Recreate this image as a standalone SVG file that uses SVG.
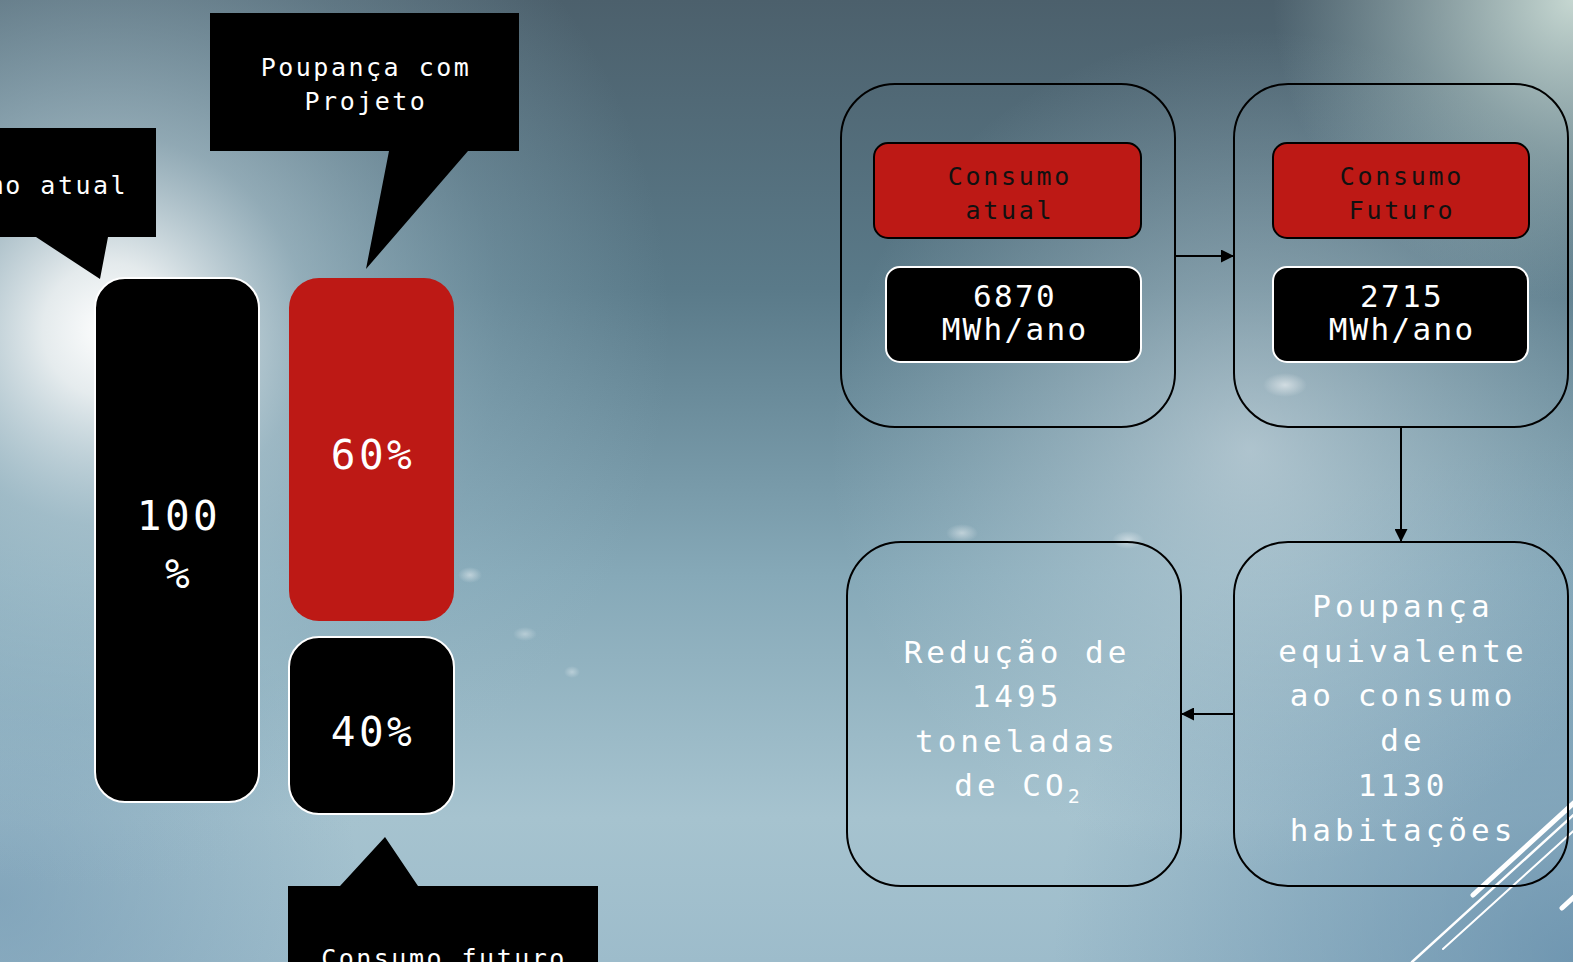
<svg xmlns="http://www.w3.org/2000/svg" width="1573" height="962" viewBox="0 0 1573 962">
<defs>
<linearGradient id="bgv" x1="0" y1="0" x2="0" y2="1">
<stop offset="0" stop-color="#4c606c"/>
<stop offset="0.3" stop-color="#5a7a89"/>
<stop offset="0.6" stop-color="#86a9b8"/>
<stop offset="0.85" stop-color="#a6c3cf"/>
<stop offset="1" stop-color="#9dbccb"/>
</linearGradient>
<radialGradient id="glowL" cx="110" cy="330" r="560" gradientUnits="userSpaceOnUse">
<stop offset="0" stop-color="#ffffff" stop-opacity="1"/>
<stop offset="0.12" stop-color="#f0f4f5" stop-opacity="0.92"/>
<stop offset="0.35" stop-color="#b9d0da" stop-opacity="0.6"/>
<stop offset="0.7" stop-color="#9bbccb" stop-opacity="0.25"/>
<stop offset="1" stop-color="#9bbccb" stop-opacity="0"/>
</radialGradient>
<radialGradient id="glowTR" cx="1573" cy="0" r="300" gradientUnits="userSpaceOnUse">
<stop offset="0" stop-color="#d3e4dc" stop-opacity="0.9"/>
<stop offset="1" stop-color="#b5cfcf" stop-opacity="0"/>
</radialGradient>
<radialGradient id="glowC" cx="1250" cy="450" r="420" gradientUnits="userSpaceOnUse">
<stop offset="0" stop-color="#dfeaf0" stop-opacity="0.55"/>
<stop offset="1" stop-color="#c0d6e0" stop-opacity="0"/>
</radialGradient>
<radialGradient id="darkBR" cx="1573" cy="962" r="520" gradientUnits="userSpaceOnUse">
<stop offset="0" stop-color="#5d87a6" stop-opacity="0.7"/>
<stop offset="1" stop-color="#5d87a6" stop-opacity="0"/>
</radialGradient>
<radialGradient id="darkBL" cx="0" cy="900" r="360" gradientUnits="userSpaceOnUse">
<stop offset="0" stop-color="#6f95b0" stop-opacity="0.6"/>
<stop offset="1" stop-color="#6f95b0" stop-opacity="0"/>
</radialGradient>
<radialGradient id="spot">
<stop offset="0" stop-color="#ffffff" stop-opacity="0.9"/>
<stop offset="1" stop-color="#ffffff" stop-opacity="0"/>
</radialGradient>
<marker id="ah" viewBox="0 0 13 13" refX="12" refY="6.5" markerWidth="13" markerHeight="13" markerUnits="userSpaceOnUse" orient="auto">
<path d="M0,0 L13,6.5 L0,13 Z" fill="#000"/>
</marker>
<style>
.t{font-family:"DejaVu Sans Mono","Liberation Mono",monospace;fill:#fff;text-anchor:middle}
.call{font-size:25px;letter-spacing:2.5px}
.lbl{font-size:25px;letter-spacing:2.7px;fill:#111}
.val{font-size:31px;letter-spacing:2.3px}
.big{font-size:31px;letter-spacing:4px}
.bar{font-size:41px;letter-spacing:3.5px}
.outer{fill:none;stroke:#000;stroke-width:2}
.conn{stroke:#000;stroke-width:2;fill:none}
.deco{stroke:#fff;stroke-linecap:round;fill:none}
</style>
</defs>

<g id="background">
<rect x="0" y="0" width="1573" height="962" fill="url(#bgv)"/>
<rect x="0" y="0" width="1573" height="962" fill="url(#darkBR)"/>
<rect x="0" y="0" width="1573" height="962" fill="url(#darkBL)"/>
<rect x="0" y="0" width="1573" height="962" fill="url(#glowC)"/>
<rect x="0" y="0" width="1573" height="962" fill="url(#glowL)"/>
<rect x="0" y="0" width="1573" height="962" fill="url(#glowTR)"/>
<ellipse cx="1285" cy="385" rx="22" ry="12" fill="url(#spot)" opacity="0.6"/>
<ellipse cx="962" cy="533" rx="16" ry="9" fill="url(#spot)" opacity="0.5"/>
<ellipse cx="1128" cy="540" rx="16" ry="9" fill="url(#spot)" opacity="0.5"/>
<ellipse cx="470" cy="575" rx="12" ry="8" fill="url(#spot)" opacity="0.5"/>
<ellipse cx="525" cy="634" rx="12" ry="7" fill="url(#spot)" opacity="0.4"/>
<ellipse cx="572" cy="672" rx="8" ry="6" fill="url(#spot)" opacity="0.4"/>
<line class="deco" x1="1473" y1="895" x2="1590" y2="788" stroke-width="5"/>
<line class="deco" x1="1412" y1="962" x2="1580" y2="809" stroke-width="2.5"/>
<line class="deco" x1="1443" y1="949" x2="1580" y2="825" stroke-width="2"/>
<line class="deco" x1="1562" y1="908" x2="1585" y2="887" stroke-width="5"/>
</g>

<g id="callout-consumo-atual">
<path d="M-120,128 H156 V237 H108 L100,279 L36,237 H-120 Z" fill="#000"/>
<text class="t call" x="14" y="194">Consumo atual</text>
</g>

<g id="callout-poupanca">
<path d="M210,13 H519 V151 H468 L366,269 L389,151 H210 Z" fill="#000"/>
<text class="t call" x="366" y="76">Poupança com</text>
<text class="t call" x="366" y="110">Projeto</text>
</g>

<g id="callout-consumo-futuro">
<path d="M288,886 H340 L385,837 L418,886 H598 V980 H288 Z" fill="#000"/>
<text class="t call" x="444" y="967">Consumo futuro</text>
</g>

<g id="bar-100">
<rect x="95" y="278" width="164" height="524" rx="30" fill="#000" stroke="#fff" stroke-width="2"/>
<text class="t bar" x="179" y="530">100</text>
<text class="t bar" x="179" y="588">%</text>
</g>

<g id="bar-60">
<rect x="289" y="278" width="165" height="343" rx="30" fill="#bd1915"/>
<text class="t bar" x="373" y="469">60%</text>
</g>

<g id="bar-40">
<rect x="289" y="637" width="165" height="177" rx="30" fill="#000" stroke="#fff" stroke-width="2"/>
<text class="t bar" x="373" y="746">40%</text>
</g>

<g id="node-consumo-atual">
<rect class="outer" x="841" y="84" width="334" height="343" rx="54"/>
<rect x="874" y="143" width="267" height="95" rx="14" fill="#bd1915" stroke="#000" stroke-width="2"/>
<text class="t lbl" x="1010" y="185">Consumo</text>
<text class="t lbl" x="1010" y="219">atual</text>
<rect x="886" y="267" width="255" height="95" rx="14" fill="#000" stroke="#fff" stroke-width="2"/>
<text class="t val" x="1015" y="307">6870</text>
<text class="t val" x="1015" y="340">MWh/ano</text>
</g>

<g id="node-consumo-futuro">
<rect class="outer" x="1234" y="84" width="334" height="343" rx="54"/>
<rect x="1273" y="143" width="256" height="95" rx="14" fill="#bd1915" stroke="#000" stroke-width="2"/>
<text class="t lbl" x="1402" y="185">Consumo</text>
<text class="t lbl" x="1402" y="219">Futuro</text>
<rect x="1273" y="267" width="255" height="95" rx="14" fill="#000" stroke="#fff" stroke-width="2"/>
<text class="t val" x="1402" y="307">2715</text>
<text class="t val" x="1402" y="340">MWh/ano</text>
</g>

<g id="node-reducao">
<rect class="outer" x="847" y="542" width="334" height="344" rx="54"/>
<text class="t big" x="1017" y="663">Redução de</text>
<text class="t big" x="1017" y="707">1495</text>
<text class="t big" x="1017" y="752">toneladas</text>
<text class="t big" x="1017" y="796">de CO<tspan font-size="20" dy="7" letter-spacing="0">2</tspan></text>
</g>

<g id="node-poupanca">
<rect class="outer" x="1234" y="542" width="334" height="344" rx="54"/>
<text class="t big" x="1403" y="617">Poupança</text>
<text class="t big" x="1403" y="662">equivalente</text>
<text class="t big" x="1403" y="706">ao consumo</text>
<text class="t big" x="1403" y="751">de</text>
<text class="t big" x="1403" y="796">1130</text>
<text class="t big" x="1403" y="841">habitações</text>
</g>

<g id="connectors">
<line class="conn" x1="1175" y1="256" x2="1233" y2="256" marker-end="url(#ah)"/>
<line class="conn" x1="1401" y1="427" x2="1401" y2="541" marker-end="url(#ah)"/>
<line class="conn" x1="1234" y1="714" x2="1182" y2="714" marker-end="url(#ah)"/>
</g>
</svg>
